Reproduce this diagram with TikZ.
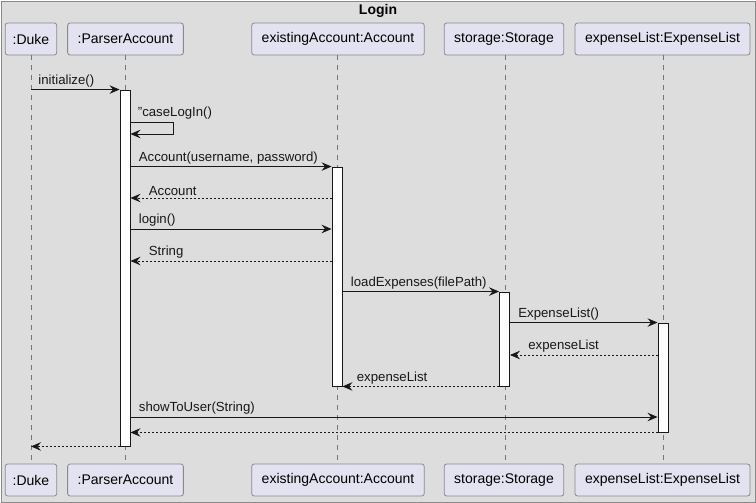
\documentclass[tikz,border=0pt]{standalone}
\usepackage{fontspec}
\setmainfont{Liberation Sans}
\usetikzlibrary{arrows.meta,positioning}
\definecolor{partfill}{HTML}{E2E2F0}
\definecolor{inkline}{HTML}{181818}
\definecolor{bggray}{HTML}{DDDDDD}
\definecolor{framegray}{HTML}{8A8A8A}
\definecolor{lifegray}{HTML}{777777}

\begin{document}
\begin{tikzpicture}[x=1pt,y=-1pt,
  party/.style={draw=framegray,fill=partfill,rounded corners=2.5pt,line width=0.8pt,
    minimum height=32pt,inner xsep=10pt,font=\fontsize{14}{16}\selectfont},
  life/.style={draw=lifegray,line width=0.6pt,dash pattern=on 5pt off 5pt},
  actbar/.style={draw=inkline,fill=white,line width=0.9pt,minimum width=10pt,inner sep=0pt},
  call/.style={draw=inkline,line width=0.9pt,-{Stealth[length=10pt,width=8.5pt,inset=3.5pt]}},
  ret/.style={call,dash pattern=on 2pt off 2pt},
  lbl/.style={font=\fontsize{13.2}{15}\selectfont,anchor=south west,inner sep=1pt,text=inkline}]
   \path[fill=bggray,draw=framegray,line width=0.8pt] (1,1) rectangle (755,502);
   \useasboundingbox (0,0) rectangle (756,503);
   \node[font=\bfseries\fontsize{14}{16}\selectfont] (title) at (378,11) {Login};
   % participants, top and bottom
   \node [party,inner xsep=7.5pt] (duke) at (31,39) {:Duke};
   \node [party] (parser) at (125.5,39) {:ParserAccount};
   \node [party] (account) at (338,39) {existingAccount:Account};
   \node [party] (storage) at (504,39) {storage:Storage};
   \node [party] (elist) at (662.5,39) {expenseList:ExpenseList};
   \node [party,inner xsep=7.5pt] (dukeB) at (31,480) {:Duke};
   \node [party] (parserB) at (125.5,480) {:ParserAccount};
   \node [party] (accountB) at (338,480) {existingAccount:Account};
   \node [party] (storageB) at (504,480) {storage:Storage};
   \node [party] (elistB) at (662.5,480) {expenseList:ExpenseList};
   \draw[life] (duke) -- (dukeB);
   \draw[life] (125,55) -- (125,463);
   \draw[life] (337,55) -- (337,463);
   \draw[life] (505,55) -- (505,463);
   \draw[life] (663,55) -- (663,463);
   % activations
   \node [actbar,minimum height=356pt] (pbar) at (125,268) {};
   \node [actbar,minimum height=219pt] (abar) at (337,276.5) {};
   \node [actbar,minimum height=94pt] (sbar) at (504.5,339) {};
   \node [actbar,minimum height=109pt] (ebar) at (663,377.5) {};
   % message rows
   \coordinate (r2) at (0,122);
   \coordinate (r2b) at (0,134);
   \coordinate (r4) at (0,198);
   \coordinate (r5) at (0,229);
   \coordinate (r6) at (0,261);
   \coordinate (r9) at (0,355);
   \coordinate (r11) at (0,417);
   \draw[call] (duke |- pbar.north) -- node[lbl,pos=0,xshift=6pt,yshift=1pt] {initialize()} (pbar.north west);
   \draw[call] (pbar.east |- r2) -- node[lbl,pos=0,xshift=6pt,yshift=1pt] {\symbol{34}caseLogIn()} ++(43,0) |- (pbar.east |- r2b);
   \draw[call] (pbar.east |- abar.north) -- node[lbl,pos=0,xshift=7pt,yshift=1pt] {Account(username, password)} (abar.north west);
   \draw[ret] (abar.west |- r4) -- node[lbl,pos=1,xshift=17pt,yshift=1pt] {Account} (pbar.east |- r4);
   \draw[call] (pbar.east |- r5) -- node[lbl,pos=0,xshift=7pt,yshift=1pt] {login()} (abar.west |- r5);
   \draw[ret] (abar.west |- r6) -- node[lbl,pos=1,xshift=17pt,yshift=1pt] {String} (pbar.east |- r6);
   \draw[call] (abar.east |- sbar.north) -- node[lbl,pos=0,xshift=7pt,yshift=1pt] {loadExpenses(filePath)} (sbar.north west);
   \draw[call] (sbar.east |- ebar.north) -- node[lbl,pos=0,xshift=7pt,yshift=1pt] {ExpenseList()} (ebar.north west);
   \draw[ret] (ebar.west |- r9) -- node[lbl,pos=1,xshift=17pt,yshift=1pt] {expenseList} (sbar.east |- r9);
   \draw[ret] (sbar.south west) -- node[lbl,pos=1,xshift=13pt,yshift=1pt] {expenseList} (abar.south east);
   \draw[call] (pbar.east |- r11) -- node[lbl,pos=0,xshift=7pt,yshift=1pt] {showToUser(String)} (ebar.west |- r11);
   \draw[ret] (ebar.south west) -- (pbar.east |- ebar.south);
   \draw[ret] (pbar.south west) -- (duke |- pbar.south);
\end{tikzpicture}
\end{document}
